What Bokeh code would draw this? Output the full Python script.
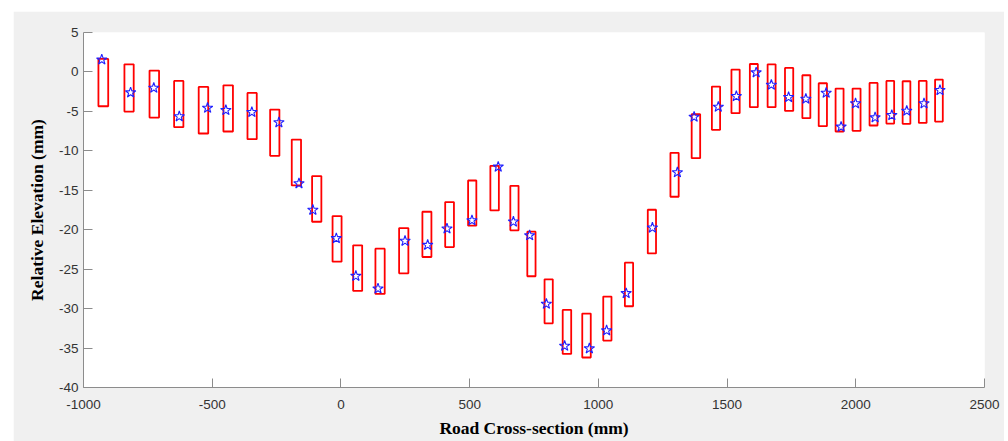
from bokeh.plotting import figure
from bokeh.models import Range1d, FixedTicker, ColumnDataSource
from bokeh.embed import file_html
from bokeh.resources import INLINE

# ---- data ----
box_x = [-923, -823, -725, -630, -534, -438, -345, -257, -173, -94, -15, 65, 152, 244,
         334, 422, 510, 597, 674, 740, 807, 878, 954, 1035, 1119, 1208, 1296, 1379,
         1457, 1533, 1604, 1673, 1741, 1808, 1872, 1937, 2003, 2069, 2134, 2197, 2260, 2323]
box_w = [38, 36, 37, 36, 37, 37, 36, 36, 36, 36, 35, 35, 36, 36, 35, 34, 32, 33, 32, 32,
         32, 33, 33, 32, 32, 32, 32, 33, 32, 32, 31, 31, 32, 31, 32, 31, 31, 31, 30, 30, 30, 30]
box_top = [1.65, 0.97, 0.17, -1.14, -1.9, -1.69, -2.66, -4.77, -8.57, -13.2, -18.27, -21.98,
           -22.4, -19.79, -17.72, -16.5, -13.76, -11.9, -14.43, -20.25, -26.29, -30.17,
           -30.63, -28.48, -24.18, -17.47, -10.25, -5.36, -1.86, 0.3, 1.01, 0.97, 0.51,
           -0.42, -1.43, -2.11, -2.11, -1.39, -1.14, -1.18, -1.14, -0.97]
box_bottom = [-4.35, -5.02, -5.78, -7.0, -7.8, -7.55, -8.52, -10.63, -14.39, -18.99, -24.05,
              -27.76, -28.14, -25.53, -23.46, -22.2, -19.49, -17.55, -20.08, -25.9, -31.86,
              -35.74, -36.2, -34.05, -29.7, -23.0, -15.82, -10.93, -7.34, -5.23, -4.47,
              -4.47, -4.94, -5.86, -6.88, -7.55, -7.47, -6.79, -6.54, -6.58, -6.46, -6.29]
star_x = [-929, -817, -727, -628, -518, -447, -346, -241, -163, -109, -18, 58, 144, 249,
          337, 412, 509, 611, 670, 733, 798, 869, 965, 1032, 1108, 1210, 1307, 1372,
          1466, 1536, 1613, 1672, 1739, 1806, 1885, 1943, 1999, 2075, 2140, 2198, 2265, 2327]
star_y = [1.56, -2.62, -2.03, -5.65, -4.56, -4.85, -5.1, -6.41, -14.14, -17.5, -21.09,
          -25.87, -27.47, -21.43, -21.94, -19.87, -18.82, -12.03, -18.99, -20.72, -29.41,
          -34.73, -35.06, -32.78, -28.06, -19.75, -12.74, -5.7, -4.43, -3.08, -0.08, -1.65,
          -3.21, -3.42, -2.66, -6.96, -4.0, -5.78, -5.49, -4.94, -4.0, -2.32]
x_ticks = [-1000, -500, 0, 500, 1000, 1500, 2000, 2500]
y_ticks = [-40, -35, -30, -25, -20, -15, -10, -5, 0, 5]

box_src = ColumnDataSource(dict(
    left=[c - w / 2 for c, w in zip(box_x, box_w)],
    right=[c + w / 2 for c, w in zip(box_x, box_w)],
    top=box_top, bottom=box_bottom))
star_src = ColumnDataSource(dict(x=star_x, y=star_y))

p = figure(width=991, height=430, output_backend="svg", toolbar_location=None,
           x_range=Range1d(-1000, 2500), y_range=Range1d(-40, 5),
           min_border_left=70, min_border_right=20, min_border_top=21, min_border_bottom=54,
           background_fill_color="white", border_fill_color="#f0f0f0",
           outline_line_color=None, margin=(11, 4, 0, 13))

p.quad(left="left", right="right", top="top", bottom="bottom", source=box_src,
       fill_color=None, line_color="#ff0000", line_width=1.8)
p.scatter(x="x", y="y", source=star_src, marker="star", size=11,
          fill_color=None, line_color="#2020ff", line_width=1.1)

p.xgrid.visible = False
p.ygrid.visible = False

for ax, ticks in ((p.xaxis[0], x_ticks), (p.yaxis[0], y_ticks)):
    ax.ticker = FixedTicker(ticks=ticks)
    ax.major_label_overrides = {t: str(t) for t in ticks}
    ax.minor_tick_line_color = None
    ax.major_tick_in = 9
    ax.major_tick_out = 0
    ax.axis_line_color = "#8c8c8c"
    ax.major_tick_line_color = "#8c8c8c"
    ax.major_label_text_color = "#333333"
    ax.major_label_text_font = "Liberation Sans"
    ax.major_label_text_font_size = "13.5px"
    ax.major_label_text_line_height = 1.0
    ax.axis_label_text_font = "Liberation Serif"
    ax.axis_label_text_font_style = "bold"
    ax.axis_label_text_font_size = "17.5px"
    ax.axis_label_text_line_height = 1.0
    ax.axis_label_text_color = "#000000"

p.xaxis.axis_label = "Road Cross-section (mm)"
p.yaxis.axis_label = "Relative Elevation (mm)"
p.xaxis.major_label_standoff = 12
p.yaxis.major_label_standoff = 5
p.xaxis.axis_label_standoff = 6
p.yaxis.axis_label_standoff = 9

open("out.html", "w").write(file_html(p, INLINE))
